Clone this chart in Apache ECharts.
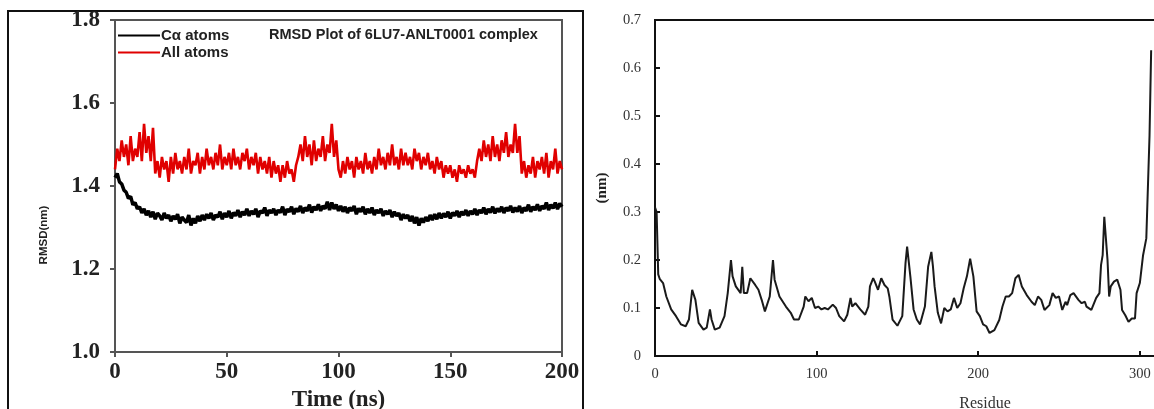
<!DOCTYPE html>
<html>
<head>
<meta charset="utf-8">
<script src="https://cdn.jsdelivr.net/npm/echarts@6/dist/echarts.min.js"></script>
<style>
html,body{margin:0;padding:0;background:#fff;}
#chart{width:1154px;height:409px;}
</style>
</head>
<body>
<div id="chart"></div>
<script>
// ---- Left panel: RMSD vs time (sampled every 1 ns, 0..200 ns) ----
const timeStep = 1;
const caAtoms = [
1.42,1.43,1.41,1.405,1.39,1.385,1.37,1.375,1.355,1.36,
1.345,1.35,1.335,1.345,1.33,1.34,1.325,1.338,1.32,1.335,
1.328,1.318,1.335,1.322,1.33,1.315,1.328,1.32,1.332,1.31,
1.325,1.318,1.312,1.33,1.305,1.322,1.31,1.328,1.315,1.33,
1.318,1.332,1.322,1.335,1.318,1.33,1.325,1.338,1.32,1.335,
1.325,1.34,1.322,1.336,1.328,1.342,1.325,1.338,1.33,1.345,
1.328,1.34,1.332,1.345,1.325,1.34,1.335,1.348,1.328,1.342,
1.335,1.345,1.33,1.342,1.336,1.35,1.33,1.344,1.338,1.35,
1.332,1.346,1.338,1.352,1.335,1.348,1.34,1.355,1.336,1.35,
1.342,1.356,1.34,1.352,1.345,1.362,1.342,1.36,1.345,1.355,
1.34,1.352,1.338,1.35,1.335,1.348,1.34,1.352,1.332,1.346,
1.338,1.35,1.332,1.345,1.335,1.348,1.33,1.342,1.335,1.345,
1.328,1.34,1.332,1.342,1.325,1.338,1.328,1.335,1.318,1.332,
1.322,1.33,1.315,1.328,1.31,1.325,1.305,1.322,1.312,1.325,
1.315,1.33,1.318,1.332,1.32,1.335,1.322,1.334,1.325,1.338,
1.322,1.336,1.328,1.34,1.325,1.338,1.33,1.342,1.328,1.34,
1.332,1.345,1.33,1.342,1.335,1.348,1.332,1.345,1.336,1.35,
1.334,1.346,1.338,1.35,1.335,1.348,1.34,1.352,1.336,1.348,
1.338,1.352,1.335,1.348,1.34,1.355,1.338,1.35,1.342,1.356,
1.34,1.352,1.345,1.36,1.342,1.355,1.346,1.36,1.344,1.358,
1.35
];
const allAtoms = [
1.44,1.49,1.46,1.51,1.47,1.50,1.45,1.52,1.46,1.49,
1.47,1.53,1.46,1.55,1.48,1.52,1.46,1.54,1.43,1.46,
1.42,1.47,1.44,1.46,1.41,1.47,1.43,1.48,1.44,1.46,
1.43,1.47,1.44,1.49,1.43,1.46,1.45,1.48,1.43,1.47,
1.44,1.49,1.45,1.47,1.44,1.48,1.45,1.50,1.44,1.47,
1.45,1.48,1.44,1.49,1.45,1.47,1.44,1.48,1.46,1.49,
1.44,1.47,1.45,1.48,1.43,1.47,1.44,1.46,1.43,1.47,
1.42,1.46,1.43,1.45,1.41,1.45,1.42,1.46,1.43,1.44,
1.41,1.45,1.47,1.50,1.46,1.52,1.47,1.50,1.45,1.51,
1.46,1.49,1.47,1.52,1.46,1.50,1.48,1.55,1.47,1.51,
1.44,1.42,1.46,1.43,1.47,1.44,1.46,1.42,1.47,1.44,
1.46,1.43,1.48,1.44,1.46,1.43,1.47,1.44,1.49,1.45,
1.47,1.44,1.48,1.45,1.50,1.45,1.47,1.44,1.49,1.45,
1.48,1.45,1.47,1.44,1.49,1.46,1.48,1.44,1.47,1.45,
1.48,1.44,1.46,1.43,1.47,1.44,1.46,1.42,1.45,1.43,
1.45,1.42,1.44,1.41,1.45,1.43,1.44,1.42,1.45,1.43,
1.44,1.42,1.46,1.49,1.46,1.51,1.47,1.50,1.46,1.52,
1.47,1.50,1.46,1.51,1.48,1.53,1.47,1.50,1.48,1.55,
1.48,1.52,1.43,1.46,1.42,1.45,1.43,1.47,1.42,1.46,
1.44,1.47,1.43,1.48,1.42,1.46,1.44,1.49,1.43,1.46,
1.44
];
const leftYTicks = {min: 1.0, max: 1.8, interval: 0.2};
const leftXTicks = {min: 0, max: 200, interval: 50};

// ---- Right panel: per-residue RMSF ----
const residues = [0,1,2,3,5,7,10,13,16,19,21,23,24,25,27,30,32,34,35,37,40,43,45,47,48,50,51,53,54,55,57,59,62,64,66,68,71,73,74,77,81,84,86,89,92,93,95,97,99,101,103,105,107,110,112,114,117,119,121,122,124,127,130,132,133,135,136,138,140,142,144,145,147,150,153,155,156,158,160,162,164,167,169,171,172,173,175,177,179,181,183,185,187,189,191,193,195,197,199,201,203,205,207,210,213,215,217,219,221,223,225,227,230,233,235,237,239,241,244,246,248,250,252,254,255,257,259,262,264,266,267,270,273,275,276,277,278,279,280,281,282,284,286,288,289,291,293,295,297,298,300,302,304,306,307];
const rmsf = [0.31,0.30,0.17,0.16,0.152,0.124,0.097,0.083,0.066,0.062,0.076,0.138,0.141,0.117,0.069,0.055,0.059,0.097,0.076,0.055,0.059,0.083,0.131,0.20,0.166,0.145,0.141,0.131,0.186,0.131,0.131,0.162,0.148,0.138,0.117,0.093,0.124,0.20,0.159,0.124,0.103,0.090,0.076,0.076,0.103,0.124,0.114,0.121,0.10,0.103,0.097,0.10,0.097,0.107,0.10,0.083,0.072,0.086,0.121,0.103,0.110,0.097,0.086,0.103,0.145,0.162,0.155,0.138,0.162,0.148,0.141,0.124,0.076,0.063,0.083,0.193,0.228,0.166,0.097,0.076,0.066,0.103,0.186,0.217,0.186,0.145,0.090,0.068,0.10,0.093,0.097,0.121,0.10,0.110,0.141,0.166,0.203,0.166,0.093,0.083,0.066,0.062,0.048,0.054,0.075,0.103,0.124,0.124,0.131,0.162,0.169,0.145,0.127,0.113,0.106,0.124,0.117,0.096,0.106,0.131,0.121,0.124,0.096,0.113,0.106,0.127,0.131,0.117,0.110,0.113,0.103,0.096,0.121,0.131,0.190,0.21,0.29,0.286,0.2,0.124,0.145,0.155,0.159,0.138,0.096,0.085,0.071,0.078,0.078,0.131,0.152,0.21,0.245,0.46,0.637];
const rightYTicks = {min: 0, max: 0.7, interval: 0.1};
const rightXTicks = {min: 0, max: 310, interval: 100};

const serif = '"Liberation Serif","DejaVu Serif",serif';
const sans = '"Liberation Sans","DejaVu Sans",sans-serif';

const chart = echarts.init(document.getElementById('chart'), null, {renderer: 'canvas'});
chart.setOption({
  backgroundColor: '#fff',
  animation: false,
  title: {
    text: 'RMSD Plot of 6LU7-ANLT0001 complex',
    left: 264, top: 22,
    textStyle: {fontFamily: sans, fontWeight: 'bold', fontSize: 14.5, color: '#222'}
  },
  legend: {
    data: ['Cα atoms', 'All atoms'],
    orient: 'vertical',
    left: 113, top: 23,
    itemWidth: 42, itemHeight: 2, itemGap: 2,
    icon: 'rect',
    textStyle: {fontFamily: sans, fontWeight: 'bold', fontSize: 15, color: '#222', padding: [0,0,0,-4]}
  },
  grid: [
    {left: 115, top: 20, width: 447, height: 332, show: true, borderColor: '#555', borderWidth: 2,
     containLabel: false, outerBoundsMode: 'none'},
    {left: 655, top: 20, width: 501, height: 336, show: true, borderColor: '#111', borderWidth: 2,
     containLabel: false, outerBoundsMode: 'none'}
  ],
  xAxis: [
    {gridIndex: 0, type: 'value', min: leftXTicks.min, max: leftXTicks.max, interval: leftXTicks.interval,
     name: 'Time (ns)', nameLocation: 'middle', nameGap: 33,
     nameTextStyle: {fontFamily: serif, fontWeight: 'bold', fontSize: 23, color: '#222'},
     axisLine: {lineStyle: {color: '#555', width: 2}},
     axisTick: {inside: false, length: 5, lineStyle: {color: '#555', width: 2}},
     axisLabel: {fontFamily: serif, fontWeight: 'bold', fontSize: 23, color: '#222', margin: 9},
     splitLine: {show: false}},
    {gridIndex: 1, type: 'value', min: rightXTicks.min, max: rightXTicks.max, interval: rightXTicks.interval,
     axisLine: {lineStyle: {color: '#111', width: 2}},
     axisTick: {inside: true, length: 5, lineStyle: {color: '#111', width: 2}},
     axisLabel: {fontFamily: serif, fontSize: 14.5, color: '#333', margin: 11, showMaxLabel: false},
     splitLine: {show: false}}
  ],
  yAxis: [
    {gridIndex: 0, type: 'value', min: leftYTicks.min, max: leftYTicks.max, interval: leftYTicks.interval,
     axisLine: {lineStyle: {color: '#555', width: 2}},
     axisTick: {inside: false, length: 5, lineStyle: {color: '#555', width: 2}},
     axisLabel: {fontFamily: serif, fontWeight: 'bold', fontSize: 23, color: '#222', margin: 15,
                 formatter: v => v.toFixed(1)},
     splitLine: {show: false}},
    {gridIndex: 1, type: 'value', min: rightYTicks.min, max: rightYTicks.max, interval: rightYTicks.interval,
     axisLine: {lineStyle: {color: '#111', width: 2}},
     axisTick: {inside: true, length: 5, lineStyle: {color: '#111', width: 2}},
     axisLabel: {fontFamily: serif, fontSize: 14.5, color: '#333', margin: 14},
     splitLine: {show: false}}
  ],
  series: [
    {name: 'Cα atoms', type: 'line', xAxisIndex: 0, yAxisIndex: 0, symbol: 'none',
     lineStyle: {color: '#000', width: 3.5}, itemStyle: {color: '#000'},
     data: caAtoms.map((v, i) => [i * timeStep, v])},
    {name: 'All atoms', type: 'line', xAxisIndex: 0, yAxisIndex: 0, symbol: 'none',
     lineStyle: {color: '#e00000', width: 2.6}, itemStyle: {color: '#e00000'},
     data: allAtoms.map((v, i) => [i * timeStep, v])},
    {name: 'RMSF', type: 'line', xAxisIndex: 1, yAxisIndex: 1, symbol: 'none',
     lineStyle: {color: '#1a1a1a', width: 2}, itemStyle: {color: '#1a1a1a'},
     data: residues.map((r, i) => [r, rmsf[i]])}
  ],
  graphic: [
    {type: 'rect', shape: {x: 8, y: 11, width: 575, height: 420}, style: {fill: 'none', stroke: '#111', lineWidth: 2}, silent: true},
    {type: 'text', x: 44, y: 235, rotation: Math.PI / 2,
     style: {text: 'RMSD(nm)', fontFamily: sans, fontWeight: 'bold', fontSize: 11.5, fill: '#222', align: 'center', verticalAlign: 'middle'}},
    {type: 'text', x: 602, y: 188, rotation: Math.PI / 2,
     style: {text: '(nm)', fontFamily: serif, fontWeight: 'bold', fontSize: 15, fill: '#222', align: 'center', verticalAlign: 'middle'}},
    {type: 'text', x: 985, y: 404, silent: true,
     style: {text: 'Residue', fontFamily: serif, fontSize: 16, fill: '#333', align: 'center', verticalAlign: 'middle'}}
  ]
});
</script>
</body>
</html>
